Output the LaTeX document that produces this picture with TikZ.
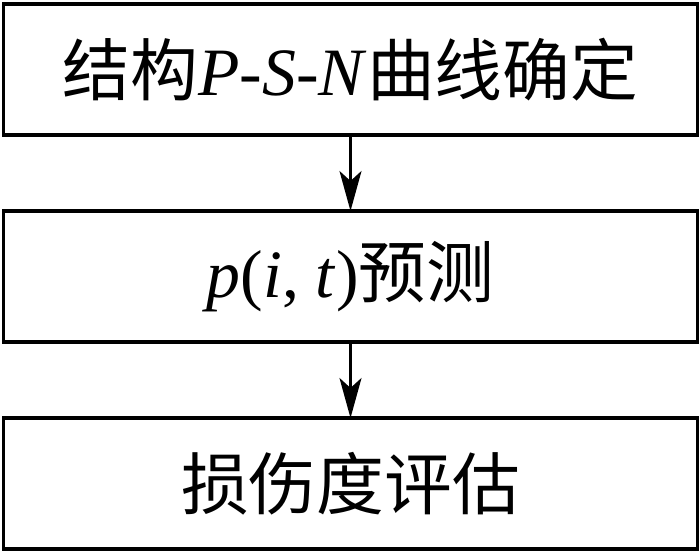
\documentclass[tikz,border=0pt]{standalone}
\usepackage{fontspec}
\setmainfont{Liberation Serif}
\newfontfamily\cjk{Noto Sans CJK SC}
\usetikzlibrary{positioning, arrows.meta}

\begin{document}
\begin{tikzpicture}[x=1bp,y=1bp,->,>={Stealth[length=40bp,width=22bp,inset=10bp]},line width=2.5bp,
    node distance=76bp,font=\fontsize{68}{80}\selectfont,
    box node/.style={rectangle,draw,line width=3.5bp,minimum width=694bp,minimum height=131bp,inner sep=0pt,outer sep=0pt}]
\useasboundingbox (0,0) rectangle (700,554);

\node[box node] (psn) at (350.5,484.5) {{\cjk 结构}\textit{P}-\textit{S}-\textit{N}{\cjk 曲线确定}};
\node[box node] (pit) [below=of psn]   {\textit{p}(\textit{i}, \textit{t}){\cjk 预测}};
\node[box node] (dmg) [below=of pit]   {{\cjk 损伤度评估}};
\path
(psn) edge (pit)
(pit) edge (dmg);
\end{tikzpicture}
\end{document}
